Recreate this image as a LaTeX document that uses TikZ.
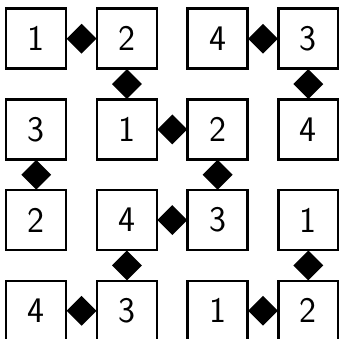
\documentclass[tikz,border=0pt]{standalone}
\usepackage{fontspec}
\usetikzlibrary{shapes.geometric}
\tikzset{
  cell/.style={draw=black, line width=2.4pt, minimum size=60pt, inner sep=0pt,
    font=\sffamily\fontsize{36}{36}\selectfont},
  dia/.style={diamond, fill=black, draw=none, minimum width=30pt, minimum height=30pt, inner sep=0pt}
}
\begin{document}
\begin{tikzpicture}[x=1pt,y=1pt]
\useasboundingbox (0,0) rectangle (339,-339);
\def\cx#1{36.25+90.7*(#1-1)}
% row 1
\node[cell] (a11) at ({\cx{1}},{-(\cx{1})-2.45}) {1};
\node[cell] (a12) at ({\cx{2}},{-(\cx{1})-2.45}) {2};
\node[cell] (a13) at ({\cx{3}},{-(\cx{1})-2.45}) {4};
\node[cell] (a14) at ({\cx{4}},{-(\cx{1})-2.45}) {3};
% row 2
\node[cell] (a21) at ({\cx{1}},{-(\cx{2})-2.45}) {3};
\node[cell] (a22) at ({\cx{2}},{-(\cx{2})-2.45}) {1};
\node[cell] (a23) at ({\cx{3}},{-(\cx{2})-2.45}) {2};
\node[cell] (a24) at ({\cx{4}},{-(\cx{2})-2.45}) {4};
% row 3
\node[cell] (a31) at ({\cx{1}},{-(\cx{3})-2.45}) {2};
\node[cell] (a32) at ({\cx{2}},{-(\cx{3})-2.45}) {4};
\node[cell] (a33) at ({\cx{3}},{-(\cx{3})-2.45}) {3};
\node[cell] (a34) at ({\cx{4}},{-(\cx{3})-2.45}) {1};
% row 4
\node[cell] (a41) at ({\cx{1}},{-(\cx{4})-2.45}) {4};
\node[cell] (a42) at ({\cx{2}},{-(\cx{4})-2.45}) {3};
\node[cell] (a43) at ({\cx{3}},{-(\cx{4})-2.45}) {1};
\node[cell] (a44) at ({\cx{4}},{-(\cx{4})-2.45}) {2};
% horizontal links
\path (a11) -- node[dia] (d1) {} (a12);
\path (a13) -- node[dia] (d2) {} (a14);
\path (a22) -- node[dia] (d3) {} (a23);
\path (a32) -- node[dia] (d4) {} (a33);
\path (a41) -- node[dia] (d5) {} (a42);
\path (a43) -- node[dia] (d6) {} (a44);
% vertical links
\path (a12) -- node[dia] (v1) {} (a22);
\path (a14) -- node[dia] (v2) {} (a24);
\path (a21) -- node[dia] (v3) {} (a31);
\path (a23) -- node[dia] (v4) {} (a33);
\path (a32) -- node[dia] (v5) {} (a42);
\path (a34) -- node[dia] (v6) {} (a44);
\end{tikzpicture}
\end{document}
